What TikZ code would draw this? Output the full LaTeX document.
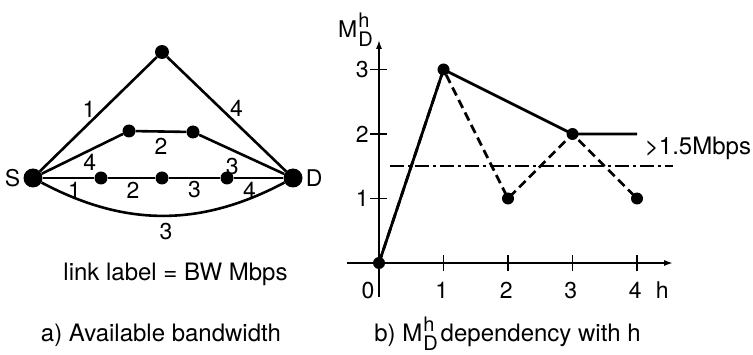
\documentclass[tikz,border=0pt]{standalone}
\usepackage{fontspec}
\setmainfont{TeX Gyre Heros}
\usetikzlibrary{positioning,arrows.meta}

\newcommand{\mdh}{M\kern1pt{\fontsize{20}{20}\selectfont\rlap{\raisebox{10pt}{h}}\raisebox{-9pt}{D}}}

\begin{document}
\begin{tikzpicture}[
    x=1pt, y=1pt,
    font=\fontsize{24}{28}\selectfont,
    link/.style={line width=2.6pt, line join=round},
    dot/.style={circle, fill=black, inner sep=0pt, minimum size=13pt},
    enddot/.style={dot, minimum size=19pt},
    lbl/.style={inner sep=0pt, font=\fontsize{23}{25}\selectfont},
    txt/.style={inner sep=0pt, anchor=base},
    axis/.style={line width=1.7pt, -{Latex[length=9pt,width=6pt]}},
    tick/.style={line width=1.7pt},
    curve/.style={line width=2.8pt, line join=round},
    curvedash/.style={curve, dash pattern=on 9pt off 5pt},
    thresh/.style={line width=1.6pt, dash pattern=on 14pt off 4pt on 3pt off 4pt},
    pdot/.style={circle, fill=black, inner sep=0pt, minimum size=12pt},
  ]
  \useasboundingbox (0,0) rectangle (753,354);

  % --- LEFT: network, link label = bandwidth ---
  \node[enddot] (S) at (33,176) {};
  \node[enddot] (D) at (293,176) {};
  \node[dot, minimum size=14pt] (top) at (162,302) {};
  \node[dot] (u1) at (129,223) {};
  \node[dot] (u2) at (193,222) {};
  \node[dot] (r1) at (101,176) {};
  \node[dot] (r2) at (162,176) {};
  \node[dot] (r3) at (227,176) {};
  \node[lbl, left=3pt of S] (Sname) {S};
  \node[lbl, right=3pt of D] (Dname) {D};

  \draw[link] (S) -- (top) node[lbl, pos=0.48, shift={(-7,7)}] (bw1) {1};
  \draw[link] (top) -- (D) node[lbl, pos=0.52, shift={(7.5,8)}] (bw2) {4};
  \draw[link] (S) -- (u1) node[lbl, pos=0.53, shift={(5,-10)}] (bw3) {4};
  \draw[link] (u1) -- (u2) node[lbl, midway, shift={(0,-15)}] (bw4) {2};
  \draw[link] (u2) -- (D) node[lbl, pos=0.46, shift={(-6,-14)}] (bw5) {3};
  \draw[link] (S) -- (r1) node[lbl, midway, shift={(6,-12)}] (bw6) {1};
  \draw[link] (r1) -- (r2) node[lbl, midway, shift={(1.5,-12)}] (bw7) {2};
  \draw[link] (r2) -- (r3) node[lbl, midway, shift={(0,-12)}] (bw8) {3};
  \draw[link] (r3) -- (D) node[lbl, midway, shift={(-9,-12)}] (bw9) {4};
  \draw[link] (S) to[bend right=28] node[lbl, midway, shift={(3,-16)}] (bw10) {3} (D);

  \node[txt] (note) at (175.5,74) {link label = BW Mbps};
  \node[txt] (capa) at (161,13) {a) Available bandwidth};

  % --- RIGHT: M_D^h against h ---
  \begin{scope}[shift={(379,91)}, x=64.5pt, y=64.5pt]
    \coordinate (xbeg) at (-0.5,0);
    \coordinate (xend) at (4.56,0);
    \coordinate (ybeg) at (0,-0.53);
    \coordinate (yend) at (0,3.46);
    \draw[axis] (xbeg) -- (xend);
    \draw[axis] (ybeg) -- (yend);
    \foreach \i in {1,...,4} \draw[tick] (\i,-0.13) -- (\i,0.13);
    \foreach \j in {1,2,3} \draw[tick] (-0.14,\j) -- (0.13,\j);
    \foreach \i in {1,...,4} \node[lbl] (hx\i) at (\i-0.025,-0.42) {\i};
    \foreach \j in {1,2,3} \node[lbl] (my\j) at (-0.26,\j) {\j};
    \node[lbl] (hx0) at (-0.17,-0.42) {0};
    \node[lbl] (hname) at (4.39,-0.42) {h};
    \node[lbl, anchor=base west] (ylab) at (-0.636,3.49) {\mdh};

    \node[pdot] (p0) at (0,0) {};
    \node[pdot] (p1) at (1,3) {};
    \node[pdot] (p2) at (2,1) {};
    \node[pdot] (p3) at (3,2) {};
    \node[pdot] (p4) at (4,1) {};
    \coordinate (q4) at (4,2);
    \draw[curve] (p0.center) -- (p1.center) -- (p3.center) -- (q4);
    \draw[curvedash] (p0.center) -- (p1.center) -- (p2.center) -- (p3.center) -- (p4.center);

    \coordinate (th0) at (0.17,1.5);
    \coordinate (th1) at (4.56,1.5);
    \draw[thresh] (th0) -- (th1);
    \node[inner sep=0pt, anchor=west] (thlab) at (4.12,1.775) {>1.5Mbps};
  \end{scope}

  \node[txt] (capb) at (507.5,13) {b) \mdh{}\kern3pt dependency with h};
\end{tikzpicture}
\end{document}
